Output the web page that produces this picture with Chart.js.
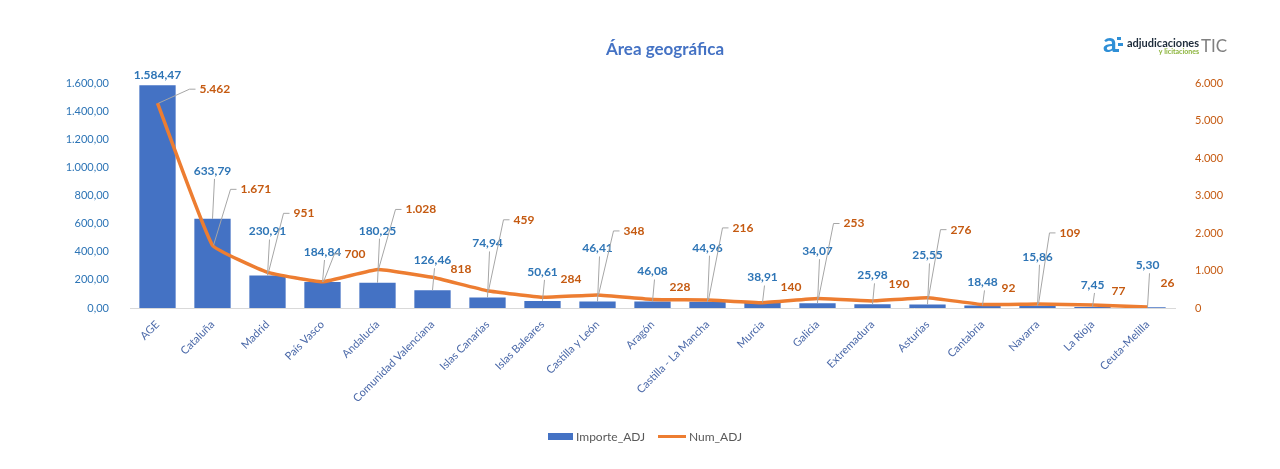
<!DOCTYPE html>
<html>
<head>
<meta charset="utf-8">
<script src="https://cdn.jsdelivr.net/npm/chart.js@4"></script>
<style>
  html, body { margin: 0; padding: 0; background: #ffffff; }
  #wrap { width: 1280px; height: 469px; }
</style>
</head>
<body>
<div id="wrap"><canvas id="chart" width="1280" height="469"></canvas></div>
<script>
const categories = ["AGE", "Cataluña", "Madrid", "País Vasco", "Andalucía", "Comunidad Valenciana",
  "Islas Canarias", "Islas Baleares", "Castilla y León", "Aragón", "Castilla - La Mancha", "Murcia",
  "Galicia", "Extremadura", "Asturias", "Cantabria", "Navarra", "La Rioja", "Ceuta-Melilla"];
const importeAdj = [1584.47, 633.79, 230.91, 184.84, 180.25, 126.46, 74.94, 50.61, 46.41, 46.08,
  44.96, 38.91, 34.07, 25.98, 25.55, 18.48, 15.86, 7.45, 5.30];
const numAdj = [5462, 1671, 951, 700, 1028, 818, 459, 284, 348, 228, 216, 140, 253, 190, 276, 92, 109, 77, 26];
const leftAxisMax = 1600, leftAxisStep = 200;
const rightAxisMax = 6000, rightAxisStep = 1000;

// where Excel put the data labels, relative to each mark (px)
const barLabelDy = [-10, -48, -44, -30, -52, -30, -54, -29, -53, -30, -54, -25, -52, -29, -49, -23, -49, -22, -42];
const lineLabelDx = [42, 28, 26, 22, 28, 18, 26, 18, 26, 17, 25, 18, 26, 16, 23, 19, 22, 19, 13];
const lineLabelDy = [-14, -56, -59, -28, -60, -8, -71, -18, -64, -12, -72, -16, -75, -17, -68, -16, -71, -14, -24];

const BLUE = "#4472C4";
const ORANGE = "#ED7D31";
const FONT = "Lato, 'Open Sans', sans-serif";

// 1.584,47 style numbers
const fmt = (v, dec) => {
  const parts = v.toFixed(dec).split(".");
  const int = parts[0].replace(/\B(?=(\d{3})+(?!\d))/g, ".");
  return parts[1] ? int + "," + parts[1] : int;
};

const labelsPlugin = {
  id: "excelLabels",
  afterDatasetsDraw(chart) {
    const ctx = chart.ctx;
    const bars = chart.getDatasetMeta(0).data;
    const pts = chart.getDatasetMeta(1).data;
    ctx.save();
    ctx.lineWidth = 1;
    ctx.strokeStyle = "#a6a6a6";
    // bar labels
    ctx.font = "bold 12px " + FONT;
    ctx.textAlign = "center";
    ctx.textBaseline = "middle";
    bars.forEach((b, i) => {
      const ly = b.y + barLabelDy[i];
      if (barLabelDy[i] < -20) {
        ctx.beginPath();
        ctx.moveTo(b.x, b.y);
        ctx.lineTo(b.x + 2, ly + 8);
        ctx.stroke();
      }
      ctx.fillStyle = "#2E75B6";
      ctx.fillText(fmt(importeAdj[i], 2), b.x, ly);
    });
    // line labels
    ctx.textAlign = "left";
    pts.forEach((p, i) => {
      const lx = p.x + lineLabelDx[i];
      const ly = p.y + lineLabelDy[i];
      if (Math.hypot(lineLabelDx[i], lineLabelDy[i]) > 30) {
        ctx.beginPath();
        ctx.moveTo(p.x + 1, p.y);
        ctx.lineTo(lx - 10, ly);
        ctx.lineTo(lx - 4, ly);
        ctx.stroke();
      }
      ctx.fillStyle = "#C55A11";
      ctx.fillText(fmt(numAdj[i], 0), lx, ly);
    });
    ctx.restore();
  },
  afterDraw(chart) {
    const ctx = chart.ctx;
    ctx.save();
    // title
    ctx.font = "bold 17px " + FONT;
    ctx.fillStyle = BLUE;
    ctx.textAlign = "center";
    ctx.textBaseline = "middle";
    ctx.fillText("Área geográfica", 665, 50);

    // logo
    ctx.textAlign = "left";
    ctx.font = "bold 27px " + FONT;
    ctx.fillStyle = "#2f8fd6";
    ctx.fillText("a", 1103, 43);
    ctx.fillRect(1117, 37, 4, 3);
    ctx.fillRect(1118, 43, 5, 3);
    ctx.fillRect(1115, 49, 4, 3);
    ctx.font = "bold 11px " + FONT;
    ctx.fillStyle = "#1d2b3a";
    ctx.fillText("adjudicaciones", 1127, 43);
    ctx.font = "bold 7px " + FONT;
    ctx.fillStyle = "#8cb43c";
    ctx.textAlign = "right";
    ctx.fillText("y licitaciones", 1199, 52);
    ctx.textAlign = "left";
    ctx.font = "17px " + FONT;
    ctx.fillStyle = "#808080";
    ctx.fillText("TIC", 1201, 47);

    // legend
    ctx.font = "12px " + FONT;
    ctx.fillStyle = BLUE;
    ctx.fillRect(548, 433, 25, 7);
    ctx.fillStyle = "#595959";
    ctx.fillText("Importe_ADJ", 576, 437);
    ctx.strokeStyle = ORANGE;
    ctx.lineWidth = 3;
    ctx.beginPath();
    ctx.moveTo(658, 436.5);
    ctx.lineTo(686, 436.5);
    ctx.stroke();
    ctx.fillText("Num_ADJ", 689, 437);
    ctx.restore();
  }
};

new Chart(document.getElementById("chart"), {
  type: "bar",
  plugins: [labelsPlugin],
  data: {
    labels: categories,
    datasets: [
      {
        type: "bar",
        label: "Importe_ADJ",
        data: importeAdj,
        backgroundColor: BLUE,
        categoryPercentage: 1,
        barPercentage: 0.66,
        yAxisID: "y",
        order: 2
      },
      {
        type: "line",
        label: "Num_ADJ",
        data: numAdj,
        borderColor: ORANGE,
        borderWidth: 3.5,
        pointRadius: 0,
        tension: 0.1,
        yAxisID: "y1",
        order: 1
      }
    ]
  },
  options: {
    responsive: false,
    animation: false,
    layout: { padding: { top: 83, bottom: 61, left: 0, right: 0 } },
    plugins: {
      legend: { display: false },
      title: { display: false },
      tooltip: { enabled: false }
    },
    scales: {
      x: {
        grid: { display: false },
        border: { color: "#d9d9d9", width: 1 },
        ticks: {
          color: "#4a68a8",
          font: { family: FONT, size: 11 },
          minRotation: 45,
          maxRotation: 45,
          padding: 2,
          autoSkip: false
        },
        afterFit(scale) { scale.height = 100; }
      },
      y: {
        position: "left",
        min: 0,
        max: leftAxisMax,
        grid: { display: false },
        border: { display: false },
        ticks: {
          stepSize: leftAxisStep,
          color: "#2E75B6",
          padding: 13,
          font: { family: FONT, size: 11 },
          callback: (v) => fmt(v, 2)
        },
        afterFit(scale) { scale.width = 130; }
      },
      y1: {
        position: "right",
        min: 0,
        max: rightAxisMax,
        grid: { display: false },
        border: { display: false },
        ticks: {
          stepSize: rightAxisStep,
          color: "#C55A11",
          padding: 12,
          font: { family: FONT, size: 11 },
          callback: (v) => fmt(v, 0)
        },
        afterFit(scale) { scale.width = 105; }
      }
    }
  }
});
</script>
</body>
</html>
